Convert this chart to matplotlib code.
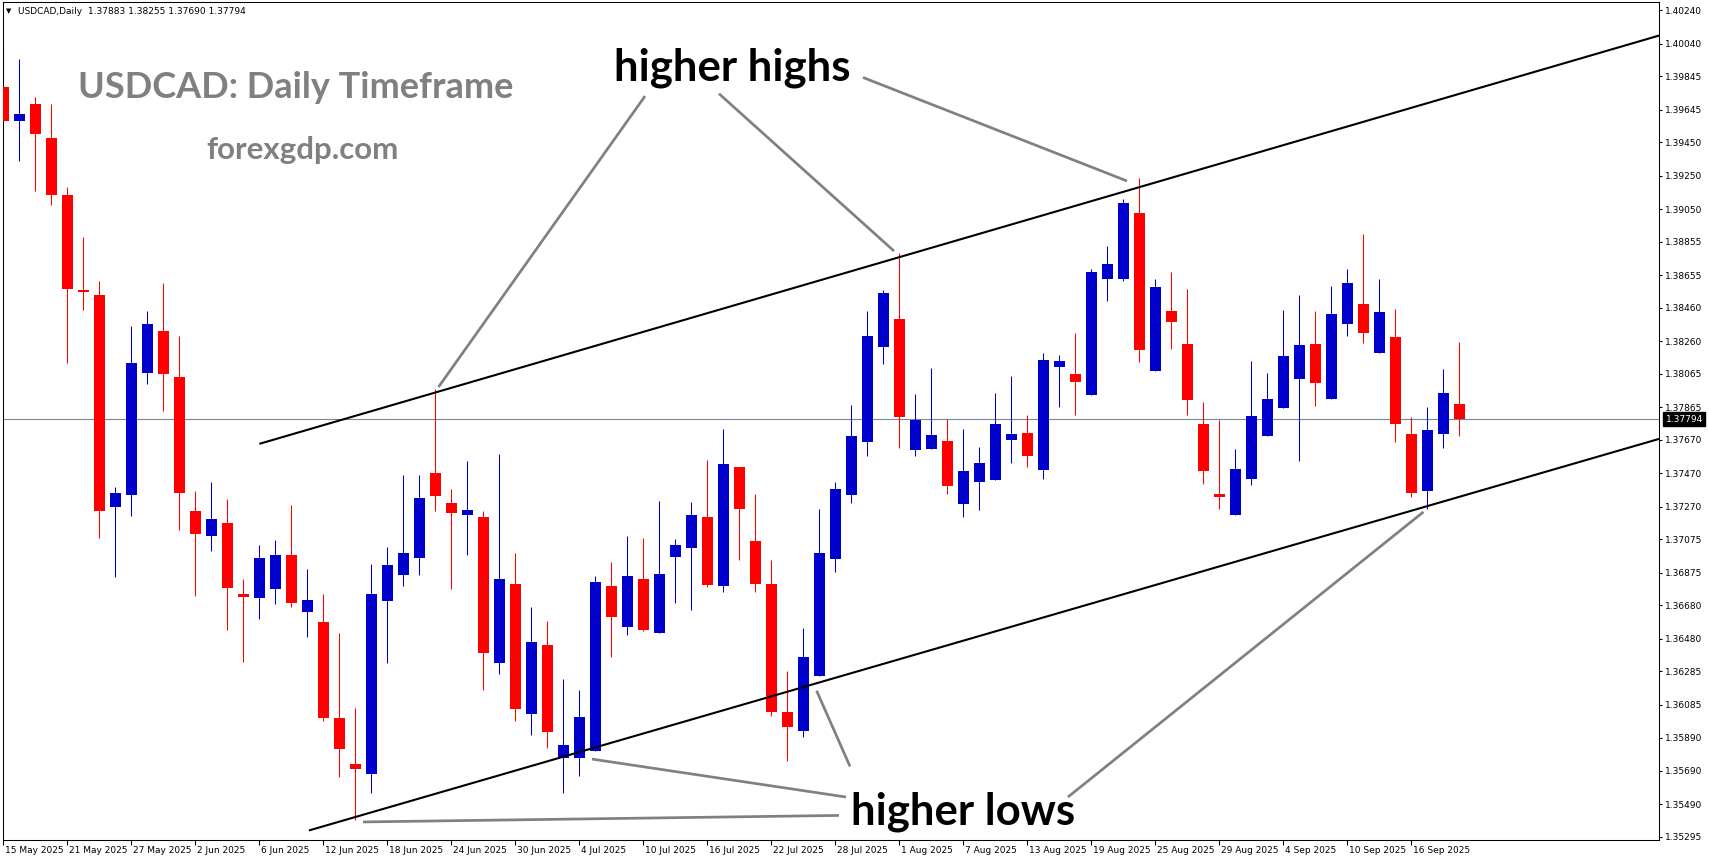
import numpy as np
import pandas as pd
import matplotlib
matplotlib.use("Agg")
import matplotlib.pyplot as plt
import matplotlib.transforms as mtransforms

# ---------------- data ----------------
symbol = "USDCAD,Daily"
start_day = "2025-05-15"

opens = [1.39778, 1.39579, 1.39679, 1.39476, 1.39137, 1.38569, 1.38537, 1.37267, 1.37342, 1.38072,
         1.38320, 1.38045, 1.37244, 1.37097, 1.37173, 1.36749, 1.36726, 1.36779, 1.36982, 1.36643,
         1.36579, 1.36005, 1.35730, 1.35670, 1.36709, 1.36864, 1.36964, 1.37472, 1.37293, 1.37223,
         1.37209, 1.36338, 1.36808, 1.36033, 1.36444, 1.35770, 1.35769, 1.35809, 1.36796, 1.36553,
         1.36838, 1.36517, 1.36971, 1.37025, 1.37208, 1.36798, 1.37507, 1.37065, 1.36808, 1.36043,
         1.35931, 1.36258, 1.36959, 1.37342, 1.37659, 1.38227, 1.38392, 1.37611, 1.37617, 1.37663,
         1.37288, 1.37420, 1.37432, 1.37671, 1.37711, 1.37492, 1.38107, 1.38064, 1.37940, 1.38633,
         1.38632, 1.39027, 1.38084, 1.38441, 1.38244, 1.37765, 1.37347, 1.37223, 1.37433, 1.37690,
         1.37863, 1.38036, 1.38244, 1.37917, 1.38365, 1.38483, 1.38192, 1.38286, 1.37706, 1.37367,
         1.37707, 1.37883]
highs = [1.40034, 1.39947, 1.39720, 1.39679, 1.39183, 1.38883, 1.38619, 1.37390, 1.38349, 1.38441,
         1.38608, 1.38290, 1.37363, 1.37420, 1.37315, 1.36836, 1.37040, 1.37070, 1.37281, 1.36898,
         1.36749, 1.36515, 1.36065, 1.36928, 1.37030, 1.37460, 1.37460, 1.37972, 1.37376, 1.37544,
         1.37245, 1.37586, 1.36994, 1.36671, 1.36587, 1.36240, 1.36174, 1.36856, 1.36939, 1.37095,
         1.37083, 1.37304, 1.37077, 1.37298, 1.37549, 1.37735, 1.37507, 1.37346, 1.36951, 1.36288,
         1.36545, 1.37256, 1.37418, 1.37878, 1.38440, 1.38566, 1.38787, 1.37944, 1.38099, 1.37794,
         1.37735, 1.37627, 1.37950, 1.38052, 1.37818, 1.38189, 1.38177, 1.38309, 1.38691, 1.38829,
         1.39111, 1.39236, 1.38632, 1.38674, 1.38572, 1.37897, 1.37789, 1.37616, 1.38142, 1.38070,
         1.38447, 1.38537, 1.38441, 1.38590, 1.38692, 1.38901, 1.38632, 1.38453, 1.37807, 1.37867,
         1.38094, 1.38255]
lows = [1.39544, 1.39338, 1.39160, 1.39075, 1.38130, 1.38445, 1.37081, 1.36852, 1.37214, 1.38006,
        1.37841, 1.37129, 1.36738, 1.37006, 1.36533, 1.36344, 1.36596, 1.36687, 1.36673, 1.36491,
        1.35991, 1.35656, 1.35397, 1.35561, 1.36338, 1.36796, 1.36862, 1.37245, 1.36780, 1.36982,
        1.36175, 1.36272, 1.35991, 1.35906, 1.35830, 1.35561, 1.35662, 1.35809, 1.36373, 1.36505,
        1.36529, 1.36517, 1.36696, 1.36652, 1.36792, 1.36762, 1.36951, 1.36762, 1.36021, 1.35752,
        1.35895, 1.36258, 1.36880, 1.37294, 1.37575, 1.38125, 1.37623, 1.37575, 1.37617, 1.37348,
        1.37210, 1.37252, 1.37432, 1.37533, 1.37509, 1.37438, 1.37868, 1.37818, 1.37940, 1.38502,
        1.38620, 1.38136, 1.38084, 1.38216, 1.37821, 1.37403, 1.37259, 1.37223, 1.37397, 1.37690,
        1.37863, 1.37546, 1.37875, 1.37917, 1.38293, 1.38252, 1.38192, 1.37660, 1.37331, 1.37259,
        1.37624, 1.37690]
closes = [1.39579, 1.39617, 1.39496, 1.39137, 1.38574, 1.38555, 1.37246, 1.37351, 1.38130, 1.38363,
          1.38065, 1.37351, 1.37109, 1.37196, 1.36786, 1.36733, 1.36962, 1.36980, 1.36697, 1.36713,
          1.36009, 1.35824, 1.35700, 1.36749, 1.36922, 1.36994, 1.37323, 1.37336, 1.37235, 1.37251,
          1.36398, 1.36838, 1.36063, 1.36462, 1.35920, 1.35846, 1.36013, 1.36820, 1.36613, 1.36856,
          1.36533, 1.36868, 1.37041, 1.37220, 1.36804, 1.37525, 1.37258, 1.36810, 1.36045, 1.35955,
          1.36371, 1.36993, 1.37376, 1.37693, 1.38291, 1.38548, 1.37808, 1.37788, 1.37699, 1.37396,
          1.37484, 1.37531, 1.37765, 1.37705, 1.37575, 1.38147, 1.38141, 1.38018, 1.38673, 1.38721,
          1.39087, 1.38210, 1.38584, 1.38377, 1.37911, 1.37486, 1.37331, 1.37496, 1.37813, 1.37915,
          1.38172, 1.38238, 1.38012, 1.38423, 1.38608, 1.38311, 1.38435, 1.37767, 1.37355, 1.37729,
          1.37951, 1.37794]

# price scale labels as printed by the terminal
price_ticks = ["1.40240", "1.40040", "1.39845", "1.39645", "1.39450", "1.39250", "1.39050",
               "1.38855", "1.38655", "1.38460", "1.38260", "1.38065", "1.37865", "1.37670",
               "1.37470", "1.37270", "1.37075", "1.36875", "1.36680", "1.36480", "1.36285",
               "1.36085", "1.35890", "1.35690", "1.35490", "1.35295"]

# channel lines: (bar, price) at both ends
upper_line = [(16.0, 1.37646), (104.0, 1.40102)]
lower_line = [(19.1, 1.35334), (104.0, 1.37690)]

# callout lines: (bar, price) from label -> to chart point
highs_callouts = [((40.11, 1.39726), (27.2, 1.37986)),
                  ((44.73, 1.39740), (55.67, 1.38799)),
                  ((53.73, 1.39837), (70.23, 1.39218))]
lows_callouts = [((66.54, 1.35534), (88.76, 1.37239)),
                 ((52.92, 1.35717), (50.83, 1.36170)),
                 ((52.67, 1.35534), (36.79, 1.35761)),
                 ((52.23, 1.35424), (22.48, 1.35385))]

# ---------------- figure ----------------
W, H = 1709, 861
fig = plt.figure(figsize=(W / 100, H / 100), dpi=100)
fig.patch.set_facecolor("white")
L, R, T, B = 2.5, 1659, 2, 840
ax = fig.add_axes([L / W, 1 - B / H, (R - L) / W, (B - T) / H])

o = np.array(opens)
h = np.array(highs)
l = np.array(lows)
c = np.array(closes)
x = np.arange(len(c))
dates = pd.bdate_range(start_day, periods=len(c))

bull = c >= o
cols = np.where(bull, "#0000CD", "#FF0000")

# wicks and bodies
ax.vlines(x, l, h, colors=cols, linewidth=0.75, zorder=2)
body = np.maximum(np.abs(c - o), 0.00006)
ax.bar(x, body, bottom=np.minimum(o, c), width=0.69, color=cols, linewidth=0, zorder=3)

# current price line
ax.axhline(c[-1], color="#778899", linewidth=0.8, zorder=1)

# channel
for ln in (upper_line, lower_line):
    ax.plot([ln[0][0], ln[1][0]], [ln[0][1], ln[1][1]], color="black", lw=1.5,
            solid_capstyle="butt", zorder=4)

for a, b in highs_callouts + lows_callouts:
    ax.plot([a[0], b[0]], [a[1], b[1]], color="#808080", lw=1.95,
            solid_capstyle="butt", zorder=4, clip_on=False)

ax.set_xlim((L - 3.3) / 16, (R - 3.3) / 16)
ax.set_ylim(1.35295 - 3 * 0.0000598, 1.35295 + (837 - T) * 0.0000598)

# axes look
for s in ax.spines.values():
    s.set_color("black")
    s.set_linewidth(0.75)

ax.yaxis.tick_right()
ax.set_yticks([float(v) for v in price_ticks])
ax.set_yticklabels(price_ticks)
ax.tick_params(axis="y", direction="out", length=2.5, width=0.75, pad=2,
               labelsize=6.5, colors="black")

xt = x[::4]
ax.set_xticks(xt)
ax.set_xticklabels([f"{d.day} {d.strftime('%b %Y')}" for d in dates[::4]])
ax.tick_params(axis="x", direction="out", length=3.5, width=0.75, pad=1,
               labelsize=6.5, colors="black")
shift = mtransforms.ScaledTranslation(1.5 / 100, 0, fig.dpi_scale_trans)
for lab in ax.get_xticklabels():
    lab.set_horizontalalignment("left")
    lab.set_transform(lab.get_transform() + shift)

# current price tag on the scale
tr = mtransforms.blended_transform_factory(ax.transAxes, ax.transData)
ax.text(1.004, c[-1], f"{c[-1]:.5f}", transform=tr, ha="left", va="center",
        fontsize=6.5, color="white",
        bbox=dict(boxstyle="square,pad=0.25", facecolor="black", edgecolor="black"))

# header line
fig.text(6 / W, 1 - 11 / H, "\u25bc", fontsize=5, va="center", ha="left")
fig.text(18 / W, 1 - 11 / H,
         f"{symbol}  {o[-1]:.5f} {h[-1]:.5f} {l[-1]:.5f} {c[-1]:.5f}",
         fontsize=6.5, va="center", ha="left")

# titles and labels
fig.text(296 / W, 1 - 98 / H, "USDCAD: Daily Timeframe", fontsize=26, family="Lato",
         weight="bold", color="#808080", ha="center", va="baseline")
fig.text(303 / W, 1 - 159 / H, "forexgdp.com", fontsize=22.5, family="Lato",
         weight="bold", color="#808080", ha="center", va="baseline")
fig.text(732 / W, 1 - 81 / H, "higher highs", fontsize=31.5, family="Lato",
         weight="bold", color="black", ha="center", va="baseline")
fig.text(963 / W, 1 - 825 / H, "higher lows", fontsize=31.5, family="Lato",
         weight="bold", color="black", ha="center", va="baseline")

fig.savefig("out.png", dpi=100, facecolor="white")
